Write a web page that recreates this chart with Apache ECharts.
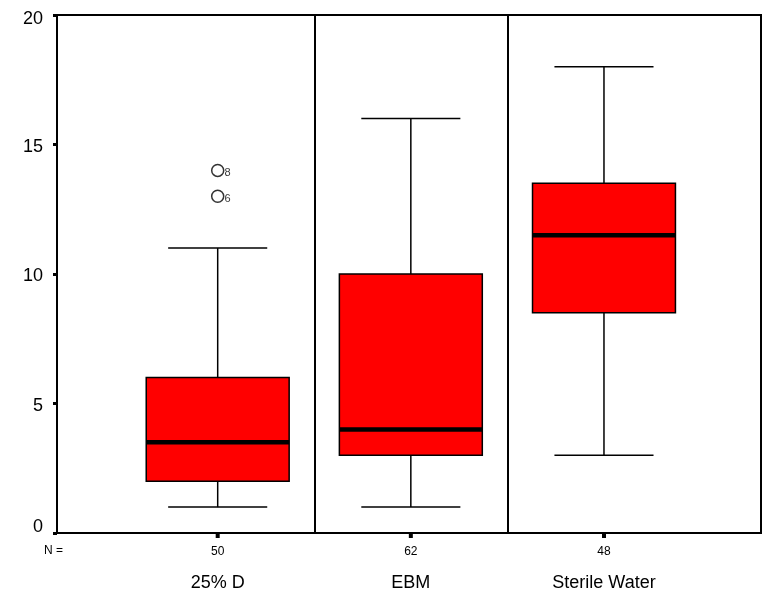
<!DOCTYPE html>
<html>
<head>
<meta charset="utf-8">
<script src="https://cdn.jsdelivr.net/npm/echarts@6/dist/echarts.min.js"></script>
<style>
html,body{margin:0;padding:0;background:#fff;}
#chart{width:770px;height:599px;}
</style>
</head>
<body>
<div id="chart"></div>
<script>
var categories = ['25% D', 'EBM', 'Sterile Water'];
var counts = [50, 62, 48];
var whiskerLow = [1, 1, 3];
var q1 = [2, 3, 8.5];
var median = [3.5, 4, 11.5];
var q3 = [6, 10, 13.5];
var whiskerHigh = [11, 16, 18];
var outlierGroup = [0, 0];
var outlierValue = [14, 13];
var outlierLabel = ['8', '6'];
var yTicks = [0, 5, 10, 15, 20];

var FONT = '"Liberation Sans", Arial, sans-serif';

var boxData = categories.map(function (c, i) {
  return [i + 1, whiskerLow[i], q1[i], median[i], q3[i], whiskerHigh[i]];
});
var labelData = categories.map(function (c, i) { return [i + 1, i]; });
var outlierData = outlierValue.map(function (v, i) {
  return { value: [outlierGroup[i] + 1, v], name: outlierLabel[i] };
});

var chart = echarts.init(document.getElementById('chart'));
chart.setOption({
  animation: false,
  backgroundColor: '#fff',
  grid: { left: 57, right: 9, top: 15, bottom: 66, show: true, borderColor: '#000', borderWidth: 2, backgroundColor: 'transparent' },
  xAxis: {
    type: 'value', min: 0.168, max: 3.813,
    axisLine: { show: false }, axisTick: { show: false }, axisLabel: { show: false }, splitLine: { show: false }
  },
  yAxis: {
    type: 'value', min: yTicks[0], max: yTicks[yTicks.length - 1], interval: 5,
    axisLine: { show: false },
    axisTick: { show: true, length: 4, lineStyle: { color: '#000', width: 3 } },
    axisLabel: {
      color: '#000', fontSize: 18, fontFamily: FONT, margin: 14,
      formatter: function (v) {
        if (v === 0) return '{z|0}';
        if (v === 20) return '{t|20}';
        return '{n|' + v + '}';
      },
      rich: {
        z: { fontSize: 18, fontFamily: FONT, color: '#000', padding: [0, 0, 12, 0] },
        t: { fontSize: 18, fontFamily: FONT, color: '#000', padding: [8, 0, 0, 0] },
        n: { fontSize: 18, fontFamily: FONT, color: '#000', padding: [5, 0, 0, 0] }
      }
    },
    splitLine: { show: false }
  },
  graphic: [{
    type: 'text', left: 44, top: 545,
    style: { text: 'N =', fill: '#000', font: '12px ' + FONT }
  }],
  series: [
    {
      type: 'custom',
      data: boxData,
      z: 3,
      renderItem: function (params, api) {
        var x = api.value(0);
        var unit = api.size([1, 0])[0];
        var bw = unit * 0.74, cw = unit * 0.513;
        var pLow = api.coord([x, api.value(1)]);
        var pQ1 = api.coord([x, api.value(2)]);
        var pMed = api.coord([x, api.value(3)]);
        var pQ3 = api.coord([x, api.value(4)]);
        var pHigh = api.coord([x, api.value(5)]);
        var cx = pQ1[0];
        var ls = { stroke: '#000', lineWidth: 1.5 };
        return {
          type: 'group',
          children: [
            { type: 'line', shape: { x1: cx, y1: pQ3[1], x2: cx, y2: pHigh[1] }, style: ls },
            { type: 'line', shape: { x1: cx, y1: pQ1[1], x2: cx, y2: pLow[1] }, style: ls },
            { type: 'line', shape: { x1: cx - cw / 2, y1: pHigh[1], x2: cx + cw / 2, y2: pHigh[1] }, style: ls },
            { type: 'line', shape: { x1: cx - cw / 2, y1: pLow[1], x2: cx + cw / 2, y2: pLow[1] }, style: ls },
            { type: 'rect', shape: { x: cx - bw / 2, y: pQ3[1], width: bw, height: pQ1[1] - pQ3[1] },
              style: { fill: '#ff0000', stroke: '#000', lineWidth: 1.5 } },
            { type: 'line', shape: { x1: cx - bw / 2, y1: pMed[1], x2: cx + bw / 2, y2: pMed[1] },
              style: { stroke: '#000', lineWidth: 4.5 } }
          ]
        };
      },
      markLine: {
        silent: true, symbol: 'none', label: { show: false },
        lineStyle: { color: '#000', width: 2, type: 'solid' },
        data: [{ xAxis: 1.5 }, { xAxis: 2.5 }]
      }
    },
    {
      type: 'custom',
      data: labelData,
      clip: false,
      z: 4,
      renderItem: function (params, api) {
        var x = api.value(0);
        var i = api.value(1);
        var p = api.coord([x, 0]);
        return {
          type: 'group',
          children: [
            { type: 'rect', shape: { x: p[0] - 2, y: p[1] + 1, width: 4, height: 4 }, style: { fill: '#000' } },
            { type: 'text', x: p[0], y: p[1] + 19,
              style: { text: String(counts[i]), fill: '#000', font: '12px ' + FONT, align: 'center', verticalAlign: 'middle' } },
            { type: 'text', x: p[0], y: p[1] + 50,
              style: { text: categories[i], fill: '#000', font: '18px ' + FONT, align: 'center', verticalAlign: 'middle' } }
          ]
        };
      }
    },
    {
      type: 'scatter',
      data: outlierData,
      symbol: 'circle',
      symbolSize: 12,
      z: 5,
      itemStyle: { color: '#fff', borderColor: '#000', borderWidth: 1.5 },
      label: {
        show: true, position: 'right', distance: 0, offset: [0, 3],
        formatter: function (p) { return p.name; },
        color: '#000', fontSize: 11, fontFamily: FONT
      }
    }
  ]
});
</script>
</body>
</html>
